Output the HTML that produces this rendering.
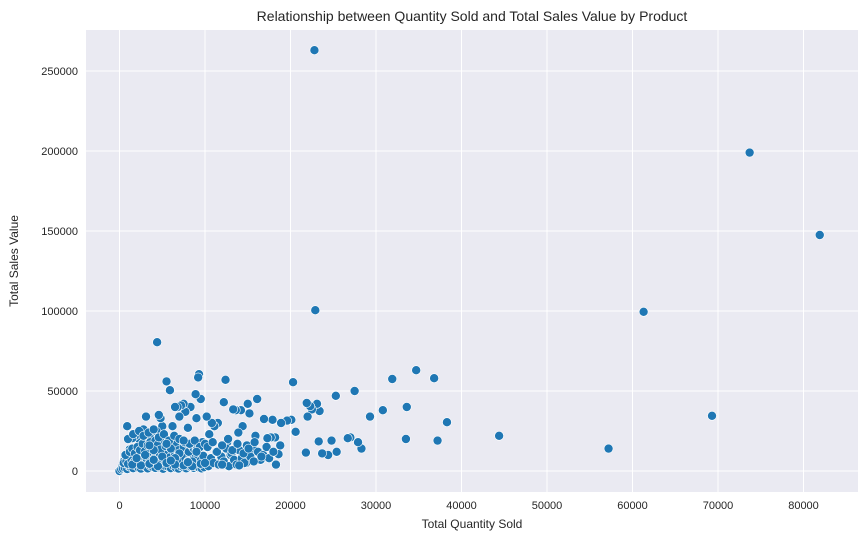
<!DOCTYPE html>
<html><head><meta charset="utf-8"><style>
body{margin:0;background:#fff;font-family:"Liberation Sans",Arial,sans-serif}
</style></head><body>
<svg id="chart" width="868" height="542" xmlns="http://www.w3.org/2000/svg" font-family="Liberation Sans, Arial, sans-serif"></svg>
<script>
const qty=[22800,73700,81900,61300,22900,4400,69300,57200,44400,38300,37200,36800,34700,33600,33500,31900,30800,29300,28300,27900,27500,27000,26700,25300,25400,24800,24400,23700,23400,23100,23300,22500,22300,22000,21900,21800,20600,20300,20100,19600,18900,18800,18600,18300,18200,17900,17700,17300,16900,16500,16300,16100,15900,15600,15200,15000,14800,14400,14200,13900,13600,13300,13000,12600,12400,12200,11900,11500,11100,10800,10500,10200,9700,9500,9300,9200,9000,8900,8700,8300,8000,7700,7500,7200,7000,6800,6500,6200,5900,5500,5000,4800,4600,4300,3900,3500,3100,2800,2300,2100,1800,1500,1200,900,800,500,300,100,0,
200,400,600,900,1100,1300,1600,1900,2200,2500,2700,3000,3300,3600,3900,4200,4500,4800,5100,5400,5700,6000,6300,6600,6900,7200,7500,7800,8100,8400,8700,9000,9300,9600,9900,
500,800,1000,1400,1700,2000,2400,2600,2900,3200,3500,3800,4100,4400,4700,5000,5300,5600,5900,6200,6500,6800,7100,7400,7700,8000,8300,8600,8900,9200,9500,9800,
700,1200,1500,1800,2100,2400,2700,3000,3300,3600,3900,4200,4500,4800,5100,5400,5700,6000,6300,6600,6900,7200,7500,7800,8100,8400,8700,9000,9400,
1000,1600,2300,2800,3400,4000,4600,5200,5800,6400,7000,7600,8200,8800,9400,10000,
10400,10700,11000,11300,11600,11900,12200,12500,12800,13100,13400,13700,14000,14300,14600,14900,15300,15700,16200,16800,17500,
10300,10900,11400,12000,12700,13200,13800,14500,15100,15800,16600,17200,18000,
2000,3000,4000,5000,6000,7000,8000,9000,3500,4500,5500,6500,7500,8500,
1500,2500,3500,4500,5500,6500,7500,8500,9500,2000,4000,6000,8000,10000,12000,14000];
const sales=[263000,199000,147500,99500,100500,80500,34500,14000,22000,30500,19000,58000,63000,40000,20000,57500,38000,34000,14000,18000,50000,21000,20500,47000,12000,19000,10000,11000,37500,42000,18500,38500,40500,34000,42500,11500,24500,55500,32000,31500,30000,16000,10500,4000,21000,32000,21000,20500,32500,7000,12000,45000,22000,14000,36000,42000,5000,28000,38000,24000,38000,38500,10000,18000,57000,43000,6000,30000,28000,30000,23000,34000,18000,45000,60500,58500,33000,48000,16000,40000,27000,37000,42000,41000,34000,40000,40000,28000,50500,56000,28000,33000,35000,25000,25000,22000,34000,26000,20000,15000,22000,20500,13500,28000,8000,6000,2500,500,0,
1000,1500,2000,1200,3000,2500,1800,3500,2200,1500,4000,2800,1600,3200,2400,1900,3600,2100,1400,3000,2600,1800,3300,2000,1500,2900,2300,1700,3100,2500,1900,2700,2200,1600,2400,
5000,6000,4500,7000,5500,8000,6500,5000,9000,7500,6000,10000,8000,7000,11000,9000,7500,12000,8500,6500,10500,9500,7000,11500,8000,6000,9000,7500,10000,8500,6500,9500,
10000,12000,14000,11000,15000,13000,17000,12500,16000,18000,14500,19000,16500,13500,20000,15500,18500,14000,21000,17000,13000,19500,15000,17500,12000,16000,14000,13000,15000,
20000,23000,25000,22000,24000,26000,21000,23000,19000,22000,20000,18000,17000,19000,15000,17000,
3000,8000,5000,12000,4000,9000,6000,14000,3000,11000,7000,4000,13000,8000,5000,16000,9000,6000,12000,10000,8000,
15000,18000,12000,16000,20000,13000,17000,11000,14000,18000,9000,15000,12000,
7000,10000,13000,9000,14000,11000,6000,12000,16000,4000,17000,8000,19000,6000,
4000,3500,4500,3000,5000,4000,3500,3000,4500,8000,7000,6500,5500,5000,4000,3500];
const xTicks=[0,10000,20000,30000,40000,50000,60000,70000,80000];
const yTicks=[0,50000,100000,150000,200000,250000];
const svg=document.getElementById('chart');const NS='http://www.w3.org/2000/svg';
const L=86,R=858,T=30,B=492;
const xs=v=>119.5+v*0.00855, ys=v=>471-v*0.0016;
function mk(t,a,p){const e=document.createElementNS(NS,t);for(const k in a)e.setAttribute(k,a[k]);(p||svg).appendChild(e);return e;}
const bg=mk('rect',{x:L,y:T,width:R-L,height:B-T,fill:'#eaeaf2'});


xTicks.forEach(v=>{const g=mk('line',{x1:xs(v),x2:xs(v),y1:T,y2:B,stroke:'#fff','stroke-width':1});


const t=mk('text',{x:xs(v),y:509,'text-anchor':'middle','font-size':11,fill:'#262626'});t.textContent=v;

});
yTicks.forEach(v=>{const g=mk('line',{x1:L,x2:R,y1:ys(v),y2:ys(v),stroke:'#fff','stroke-width':1});


const t=mk('text',{x:78,y:ys(v)+4,'text-anchor':'end','font-size':11,fill:'#262626'});t.textContent=v;

});
qty.forEach((q,i)=>{const c=mk('circle',{cx:xs(q),cy:ys(sales[i]),r:4.5,fill:'#1f77b4',stroke:'#fff','stroke-width':0.6});

});
const ti=mk('text',{x:472,y:21,'text-anchor':'middle','font-size':14,fill:'#262626'});ti.textContent='Relationship between Quantity Sold and Total Sales Value by Product';


const xt=mk('text',{x:472,y:528,'text-anchor':'middle','font-size':12,fill:'#262626'});xt.textContent='Total Quantity Sold';


const yt=mk('text',{x:18,y:261,'text-anchor':'middle','font-size':12,fill:'#262626',transform:'rotate(-90 18 261)'});yt.textContent='Total Sales Value';


</script>
</body></html>
